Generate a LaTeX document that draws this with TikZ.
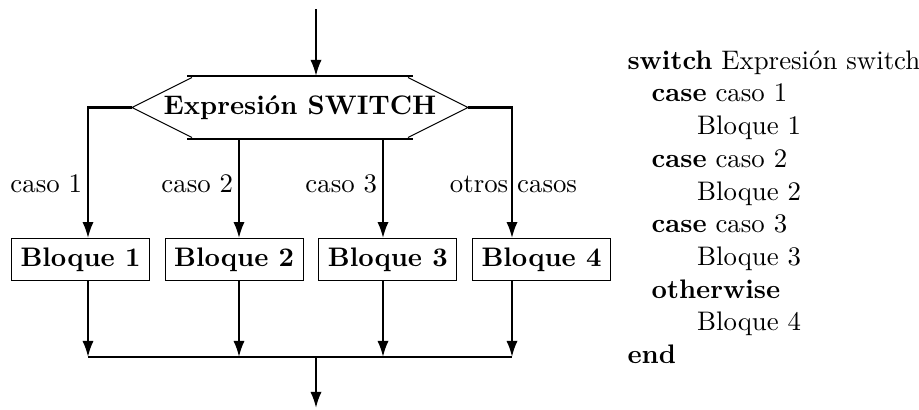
\documentclass[tikz,border=0pt]{standalone}
\usepackage{amsmath,amssymb}
\usepackage{xcolor}
\usepackage{tikz}
\usetikzlibrary{arrows.meta,positioning,calc}

\begin{document}
\begin{tikzpicture}[x=0.373pt, y=-0.373pt, >={Latex[length=6pt,width=4.2pt]}, node distance=5.5pt,
  blk/.style={draw, line width=0.4pt, font=\bfseries},
  flow/.style={->, line width=0.8pt},
  lbl/.style={inner sep=2pt}]
  \useasboundingbox (0,0) rectangle (919,409);
  % selector
  \node[font=\bfseries, inner sep=0pt](sw) at (300,107.5){Expresión SWITCH};
  \coordinate (hw) at ($(sw)+(-168,0)$);
  \coordinate (he) at ($(sw)+(168,0)$);
  \coordinate (hn) at ($(sw)+(0,-31.5)$);
  \coordinate (hs) at ($(sw)+(0,31.5)$);
  \draw[line width=0.4pt] ($(hn)+(-113,0)$) -- ($(hn)+(113,0)$);
  \draw[line width=0.4pt] ($(hs)+(-113,0)$) -- ($(hs)+(113,0)$);
  \draw[line width=0.4pt] ($(hw)+(60,-30)$) -- (hw) -- ($(hw)+(60,30)$);
  \draw[line width=0.4pt] ($(he)+(-60,-30)$) -- (he) -- ($(he)+(-60,30)$);
  % blocks
  \node[blk](b1) at (80.5,259.5){Bloque 1};
  \node[blk, right=of b1](b2){Bloque 2};
  \node[blk, right=of b2](b3){Bloque 3};
  \node[blk, right=of b3](b4){Bloque 4};
  \foreach \i/\x in {1/88,2/239,3/383,4/512}{\coordinate (k\i) at (\x,357);}
  \coordinate (in) at (316,9);
  \coordinate (out) at (316,408);
  % connectors
  \draw[flow](in)--(in |- hn);
  \draw[flow](hw) -| (k1 |- b1.north);
  \draw[flow](he) -| (k4 |- b4.north);
  \foreach \i in {2,3}{\draw[flow](k\i |- hs)--(k\i |- b\i.north);}
  \foreach \i in {1,...,4}{\draw[flow](k\i |- b\i.south)--(k\i);}
  \draw[line width=0.8pt](k1)--(k4);
  \draw[flow](out |- k1)--(out);
  % case labels
  \foreach \i/\t in {1/caso 1,2/caso 2,3/caso 3}{\node[lbl, anchor=base east](c\i) at ($(k\i)+(0,-165)$){\t};}
  \node[lbl, anchor=base](c4) at ($(k4)+(1.5,-165)$){otros casos};
  % pseudocode
  \node[anchor=north west, inner sep=0pt, align=left, font=\fontsize{10}{12.2}\selectfont](code) at (627,50){%
    \textbf{switch} Expresión switch\\
    \hspace*{9pt}\textbf{case} caso 1\\
    \hspace*{26pt}Bloque 1\\
    \hspace*{9pt}\textbf{case} caso 2\\
    \hspace*{26pt}Bloque 2\\
    \hspace*{9pt}\textbf{case} caso 3\\
    \hspace*{26pt}Bloque 3\\
    \hspace*{9pt}\textbf{otherwise}\\
    \hspace*{26pt}Bloque 4\\
    \textbf{end}};
\end{tikzpicture}
\end{document}
